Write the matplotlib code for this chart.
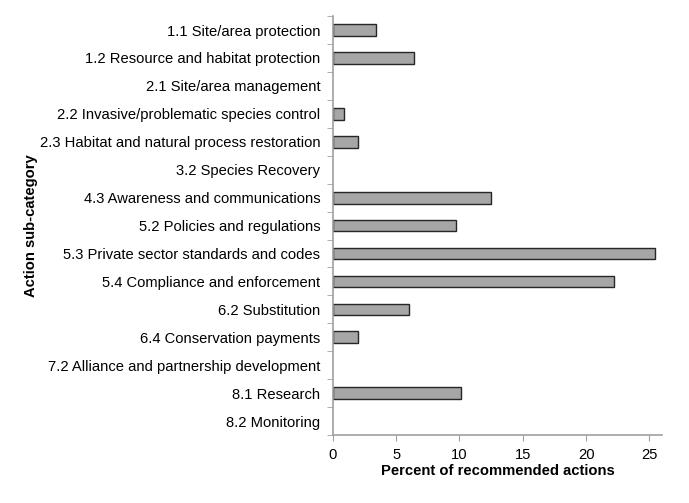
import numpy as np
import matplotlib.pyplot as plt

plt.rcParams['font.family'] = ['Liberation Sans', 'DejaVu Sans']

categories = ['1.1 Site/area protection',
              '1.2 Resource and habitat protection',
              '2.1 Site/area management',
              '2.2 Invasive/problematic species control',
              '2.3 Habitat and natural process restoration',
              '3.2 Species Recovery',
              '4.3 Awareness and communications',
              '5.2 Policies and regulations',
              '5.3 Private sector standards and codes',
              '5.4 Compliance and enforcement',
              '6.2 Substitution',
              '6.4 Conservation payments',
              '7.2 Alliance and partnership development',
              '8.1 Research',
              '8.2 Monitoring']
percent = [3.4, 6.4, 0, 0.9, 2.0, 0, 12.5, 9.7, 25.4, 22.2, 6.0, 2.0, 0, 10.1, 0]

fig = plt.figure(figsize=(6.89, 5.03), dpi=100)
ax = fig.add_axes([0.483, 0.135, 0.478, 0.833])

y = np.arange(len(categories))
vals = np.array(percent)
nz = vals > 0
ax.barh(y[nz], vals[nz], height=0.42, color='#a6a6a6', edgecolor='#262626', linewidth=1.0)

ax.set_ylim(len(categories) - 0.5, -0.5)
ax.set_xlim(0, 26)
ax.set_xticks([0, 5, 10, 15, 20, 25])
ax.set_yticks(y)
ax.set_yticklabels(categories)
# category ticks between bars, like Excel
ax.set_yticks(np.arange(-0.5, len(categories), 1), minor=True)
ax.tick_params(axis='y', which='major', length=0, pad=9, labelsize=10.6)
ax.tick_params(axis='y', which='minor', length=4, color='#a0a0a0', direction='out')
ax.tick_params(axis='x', length=4, color='#a0a0a0', direction='out', labelsize=10.6, pad=5)

for s in ['top', 'right']:
    ax.spines[s].set_visible(False)
for s in ['left', 'bottom']:
    ax.spines[s].set_color('#a0a0a0')
    ax.spines[s].set_linewidth(1.2)

ax.set_xlabel('Percent of recommended actions', fontsize=10.6, fontweight='bold', labelpad=2)
ax.set_ylabel('Action sub-category', fontsize=10.6, fontweight='bold')
ax.yaxis.set_label_coords(-0.895, 0.5)

fig.savefig('out.png', dpi=100)
